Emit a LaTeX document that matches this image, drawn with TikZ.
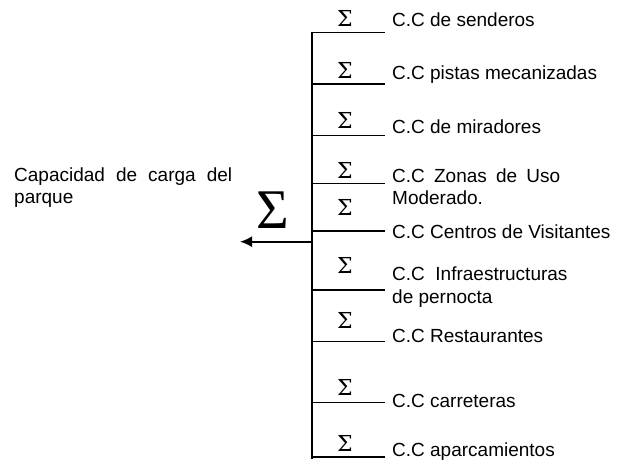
\documentclass[tikz,border=0pt]{standalone}
\usepackage{fontspec}
\setmainfont{Liberation Sans}
\newfontfamily\sigmafont{Liberation Serif}
\newfontfamily\smallsigmafont{DejaVu Serif}
\usetikzlibrary{arrows.meta}

\begin{document}
\begin{tikzpicture}[x=1pt, y=-1pt,
  every node/.style={inner sep=0pt},
  cctext/.style={anchor=base west, align=left, font=\fontsize{19}{22.4}\selectfont},
  smallsigma/.style={anchor=base, font=\smallsigmafont\fontsize{22}{22}\selectfont},
  branch/.style={line width=1.3pt}]

% command drawing dimensions
\newcommand{\trunkx}{312}
\newcommand{\branchx}{385}
\newcommand{\textx}{392}
\newcommand{\sigmax}{345}

% ad hoc bounding box
\useasboundingbox (0, 0) rectangle (624, 459);

% trunk of the sum
\coordinate (top) at (\trunkx, 32);
\coordinate (bottom) at (\trunkx, 459);
\draw[line width=1.6pt] (top) -- (bottom);

% branches
\coordinate (b1) at (\trunkx, 32.5);  \coordinate (e1) at (\branchx, 32.5);
\coordinate (b2) at (\trunkx, 84);    \coordinate (e2) at (\branchx, 84);
\coordinate (b3) at (\trunkx, 135.7); \coordinate (e3) at (\branchx, 135.7);
\coordinate (b4) at (\trunkx, 183.3); \coordinate (e4) at (\branchx, 183.3);
\coordinate (b5) at (\trunkx, 231);   \coordinate (e5) at (\branchx, 231);
\coordinate (b6) at (\trunkx, 290);   \coordinate (e6) at (\branchx, 290);
\coordinate (b7) at (\trunkx, 341.7); \coordinate (e7) at (\branchx, 341.7);
\coordinate (b8) at (\trunkx, 402.3); \coordinate (e8) at (\branchx, 402.3);
\coordinate (b9) at (\trunkx, 457);   \coordinate (e9) at (\branchx, 457);
\draw[branch] (b1) -- (e1);
\draw[branch] (b2) -- (e2);
\draw[branch] (b3) -- (e3);
\draw[branch] (b4) -- (e4);
\draw[branch] (b5) -- (e5);
\draw[branch] (b6) -- (e6);
\draw[branch] (b7) -- (e7);
\draw[branch] (b8) -- (e8);
\draw[branch] (b9) -- (e9);

% small sums
\node[smallsigma] (s1) at (\sigmax, 26) {Σ};
\node[smallsigma] (s2) at (\sigmax, 78) {Σ};
\node[smallsigma] (s3) at (\sigmax, 128) {Σ};
\node[smallsigma] (s4) at (\sigmax, 178.3) {Σ};
\node[smallsigma] (s5) at (\sigmax, 215) {Σ};
\node[smallsigma] (s6) at (\sigmax, 273) {Σ};
\node[smallsigma] (s7) at (\sigmax, 328) {Σ};
\node[smallsigma] (s8) at (\sigmax, 395) {Σ};
\node[smallsigma] (s9) at (\sigmax, 451.7) {Σ};

% partial capacities
\node[cctext] (senderos) at (\textx, 26.5) {C.C de senderos};
\node[cctext] (pistas) at (\textx, 79.5) {C.C pistas mecanizadas};
\node[cctext] (miradores) at (\textx, 133) {C.C de miradores};
\node[cctext, text width=168pt] (zonas) at (\textx, 182.5) {C.C\hfill Zonas\hfill de\hfill Uso\\Moderado.};
\node[cctext] (centros) at (\textx, 238.5) {C.C Centros de Visitantes};
\node[cctext] (pernocta) at (\textx, 303) {C.C\ \ Infraestructuras\\de pernocta};
\node[cctext] (restaurantes) at (\textx, 342.5) {C.C Restaurantes};
\node[cctext] (carreteras) at (\textx, 407.5) {C.C carreteras};
\node[cctext] (aparcamientos) at (\textx, 456) {C.C aparcamientos};

% total
\node[anchor=base, font=\sigmafont\fontsize{56}{56}\selectfont] (total) at (273, 228) {Σ};
\coordinate (arrowstart) at (\trunkx, 241.7);
\coordinate (arrowtip) at (240, 241.7);
\draw[-{Latex[length=12pt, width=11pt]}, line width=1.8pt] (arrowstart) -- (arrowtip);

%
\node[anchor=base west, text width=218pt, align=justify, font=\fontsize{19}{22.4}\selectfont] (parque) at (14, 181) {Capacidad de carga del parque};

\end{tikzpicture}
\end{document}
